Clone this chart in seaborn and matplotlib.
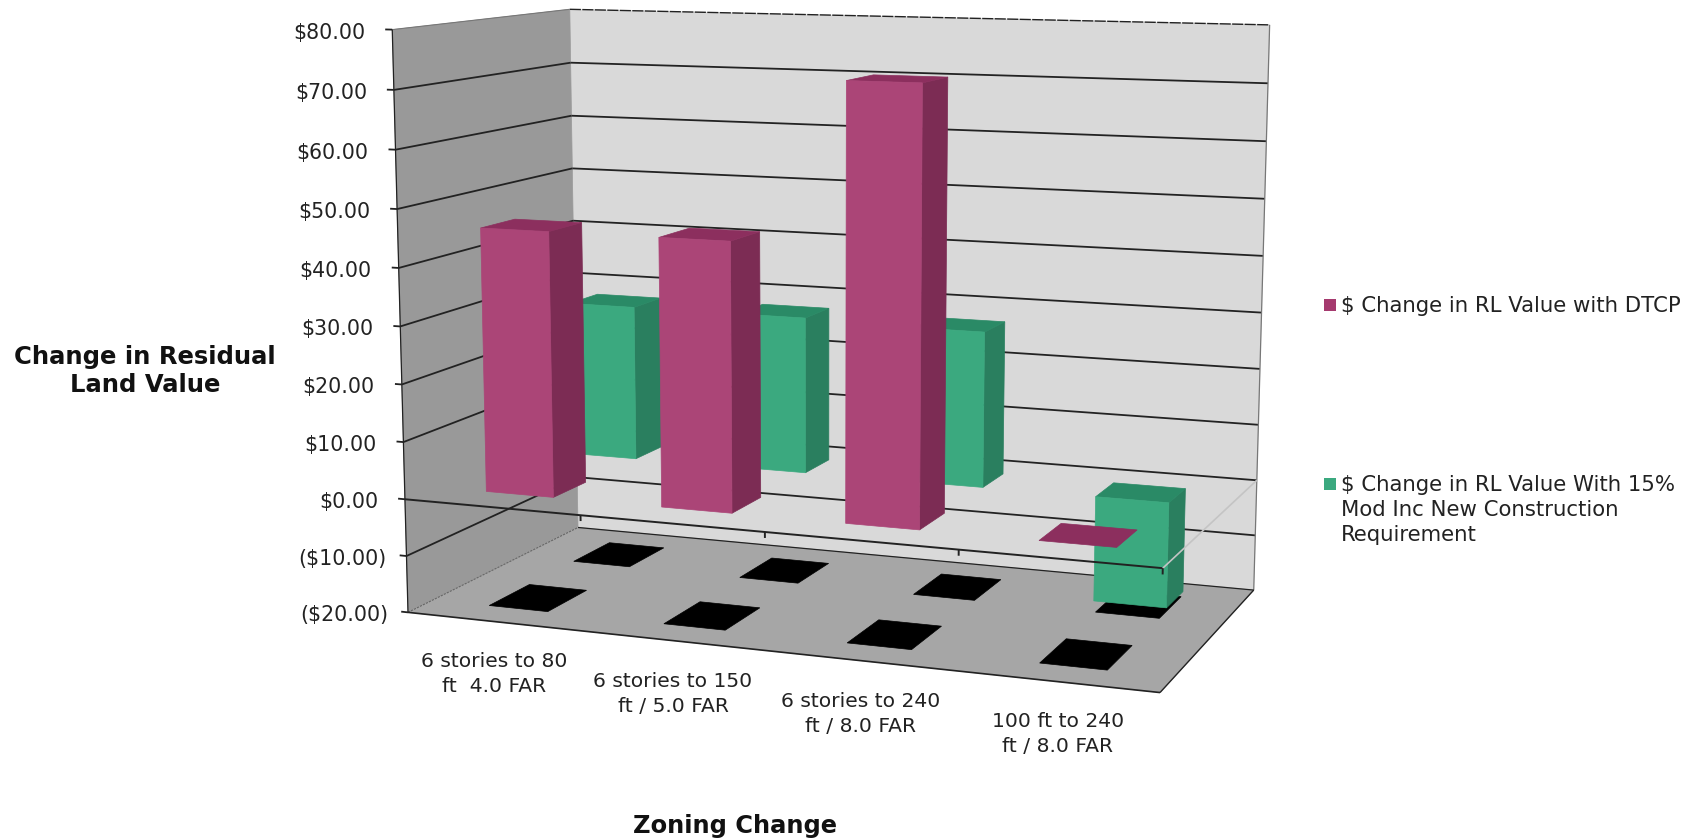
import numpy as np
import pandas as pd
import matplotlib
matplotlib.use("Agg")
import matplotlib.pyplot as plt
from matplotlib.patches import Polygon
import seaborn as sns

# Values
categories = ["6 stories to 80\nft  4.0 FAR", "6 stories to 150\nft / 5.0 FAR",
              "6 stories to 240\nft / 8.0 FAR", "100 ft to 240\nft / 8.0 FAR"]
series_names = ["$ Change in RL Value with DTCP",
                "$ Change in RL Value With 15%\nMod Inc New Construction\nRequirement"]
dtcp_values = [46.0, 46.0, 73.0, 0.0]
mod_inc_values = [28.0, 28.0, 27.5, -18.5]
tick_values = [80, 70, 60, 50, 40, 30, 20, 10, 0, -10, -20]
tick_labels = ["$80.00", "$70.00", "$60.00", "$50.00", "$40.00", "$30.00", "$20.00",
               "$10.00", "$0.00", "($10.00)", "($20.00)"]

sns.set_theme(style="white")
plt.rcParams['font.family'] = ['DejaVu Sans']
text_color = "#222222"

pink = sns.color_palette(["#ab4577", "#7c2c54", "#8c2f5e"])
green = sns.color_palette(["#3ba97f", "#2a7f5f", "#2a8a66"])

# Fit the camera of the 3D box: (category pos, depth, value) -> picture pixels
box = [(0, 0, 80), (0, 1, 80), (0, 0, -20), (0, 1, -20), (4, 1, 80), (4, 1, -20), (4, 0, -20), (4, 0, 0), (0, 0, 0), (4, 1, 0)]
pix = [(392, 30), (570, 9), (408, 612), (578, 528), (1270, 25), (1255, 590), (1160, 693), (1163, 568), (405, 499), (1255, 480)]
rows = []
for (x, d, v), (px, py) in zip(box, pix):
    rows.append([x, d, v, 1, 0, 0, 0, 0, -px * x, -px * d, -px * v, -px])
    rows.append([0, 0, 0, 0, x, d, v, 1, -py * x, -py * d, -py * v, -py])
cam = np.linalg.svd(np.array(rows, dtype=float))[2][-1].reshape(3, 4)


def project(x, d, v):
    p = cam @ np.array([x, d, v, 1.0])
    return p[0] / p[2], p[1] / p[2]


def face(ax, corners, color, z, **kw):
    ax.add_patch(Polygon([project(*c) for c in corners], closed=True, facecolor=color,
                         edgecolor=kw.pop("edgecolor", color), linewidth=kw.pop("linewidth", 0.5), zorder=z, **kw))


def line(ax, a, b, color="#222222", lw=1.3, z=2, **kw):
    pa, pb = project(*a), project(*b)
    ax.plot([pa[0], pb[0]], [pa[1], pb[1]], color=color, lw=lw, zorder=z, solid_capstyle="butt", **kw)


def draw_bar(ax, x0, x1, d0, d1, v, colors, z):
    low, high = min(0, v), max(0, v)
    if high - low < 0.5:
        face(ax, [(x0, d0, v), (x1, d0, v), (x1, d1, v), (x0, d1, v)], colors[2], z)
        return
    face(ax, [(x1, d0, low), (x1, d1, low), (x1, d1, high), (x1, d0, high)], colors[1], z)
    face(ax, [(x0, d0, high), (x1, d0, high), (x1, d1, high), (x0, d1, high)], colors[2], z)
    face(ax, [(x0, d0, low), (x1, d0, low), (x1, d0, high), (x0, d0, high)], colors[0], z)


fig = plt.figure(figsize=(16.98, 8.4), dpi=100)
ax = fig.add_axes([0, 0, 1, 1])
ax.set_xlim(0, 1698)
ax.set_ylim(840, 0)
ax.axis("off")

# Walls and floor
face(ax, [(0, 1, -20), (4, 1, -20), (4, 1, 80), (0, 1, 80)], "#d9d9d9", 1)
face(ax, [(0, 0, -20), (0, 1, -20), (0, 1, 80), (0, 0, 80)], "#999999", 1)
face(ax, [(0, 0, -20), (4, 0, -20), (4, 1, -20), (0, 1, -20)], "#a6a6a6", 1)

for v in tick_values:
    if v not in (-20, 80):
        line(ax, (0, 1, v), (4, 1, v))
    if v not in (-20, 0, 80):
        line(ax, (0, 0, v), (0, 1, v))
    line(ax, (0, 0, v), (-0.04, 0, v), z=3)
line(ax, (0, 1, 80), (4, 1, 80), lw=1.0, linestyle=(0, (8, 1)))
line(ax, (0, 0, 80), (0, 1, 80), color="#777777", lw=0.8)
line(ax, (0, 0, -20), (0, 1, -20), color="#666666", lw=0.8, linestyle=(0, (2, 1)))
line(ax, (0, 0, -20), (0, 0, 80), lw=0.9)
line(ax, (4, 1, -20), (4, 1, 80), color="#777777", lw=0.9)
line(ax, (0, 1, -20), (4, 1, -20), lw=0.9)
line(ax, (0, 0, -20), (4, 0, -20), lw=1.2)
line(ax, (4, 0, -20), (4, 1, -20), lw=1.0)

# Bars and their black shadows on the floor
table = pd.DataFrame({"category": categories, "dtcp": dtcp_values, "mod_inc": mod_inc_values})
for col, shadow_d, d0, d1, colors, z0 in [("mod_inc", 0.75, 0.66, 0.835, green, 5),
                                          ("dtcp", 0.25, 0.155, 0.345, pink, 20)]:
    for i, v in enumerate(table[col]):
        sx0, sx1 = i + 0.33, i + 0.67
        face(ax, [(sx0, shadow_d - 0.115, -20), (sx1, shadow_d - 0.115, -20),
                  (sx1, shadow_d + 0.115, -20), (sx0, shadow_d + 0.115, -20)], "black", 2)
        draw_bar(ax, i + 0.306, i + 0.694, d0, d1, v, colors, z0 + i)

# Zero plane front axis and its ticks, over the bars
line(ax, (0, 0, 0), (4, 0, 0), z=30, lw=1.4)
line(ax, (4, 0, 0), (4, 1, 0), color="#c4c4c4", z=30, lw=1.2)
for i in range(1, 5):
    line(ax, (i, 0, 0), (i, 0, -1), z=30, lw=1.4)

for v, lab in zip(tick_values, tick_labels):
    px, py = project(0, 0, v)
    shift = 20 if lab.endswith(")") else 27
    ax.text(px - shift, py + 3, lab, ha="right", va="center", fontsize=14.8, color=text_color)

label_xy = [(494, 674), (673, 694), (861, 714), (1058, 734)]
for lab, (lx, ly) in zip(categories, label_xy):
    ax.text(lx, ly, lab, ha="center", va="center", fontsize=14.6, color=text_color, linespacing=1.36)

ax.text(145, 371, "Change in Residual\nLand Value", ha="center", va="center", fontsize=17.5,
        fontweight="bold", color="#111111", linespacing=1.23)
ax.text(735, 826, "Zoning Change", ha="center", va="center", fontsize=17.4, fontweight="bold", color="#111111")

# Legend
ax.add_patch(plt.Rectangle((1324, 299), 12, 12, facecolor="#a53a6e", edgecolor="none"))
ax.add_patch(plt.Rectangle((1324, 478), 12, 12, facecolor=green[0], edgecolor="none"))
ax.text(1341, 306, series_names[0], ha="left", va="center", fontsize=15.3, color=text_color)
ax.text(1341, 510, series_names[1], ha="left", va="center", fontsize=15.3, color=text_color, linespacing=1.33)

fig.savefig("out.png", dpi=100)
